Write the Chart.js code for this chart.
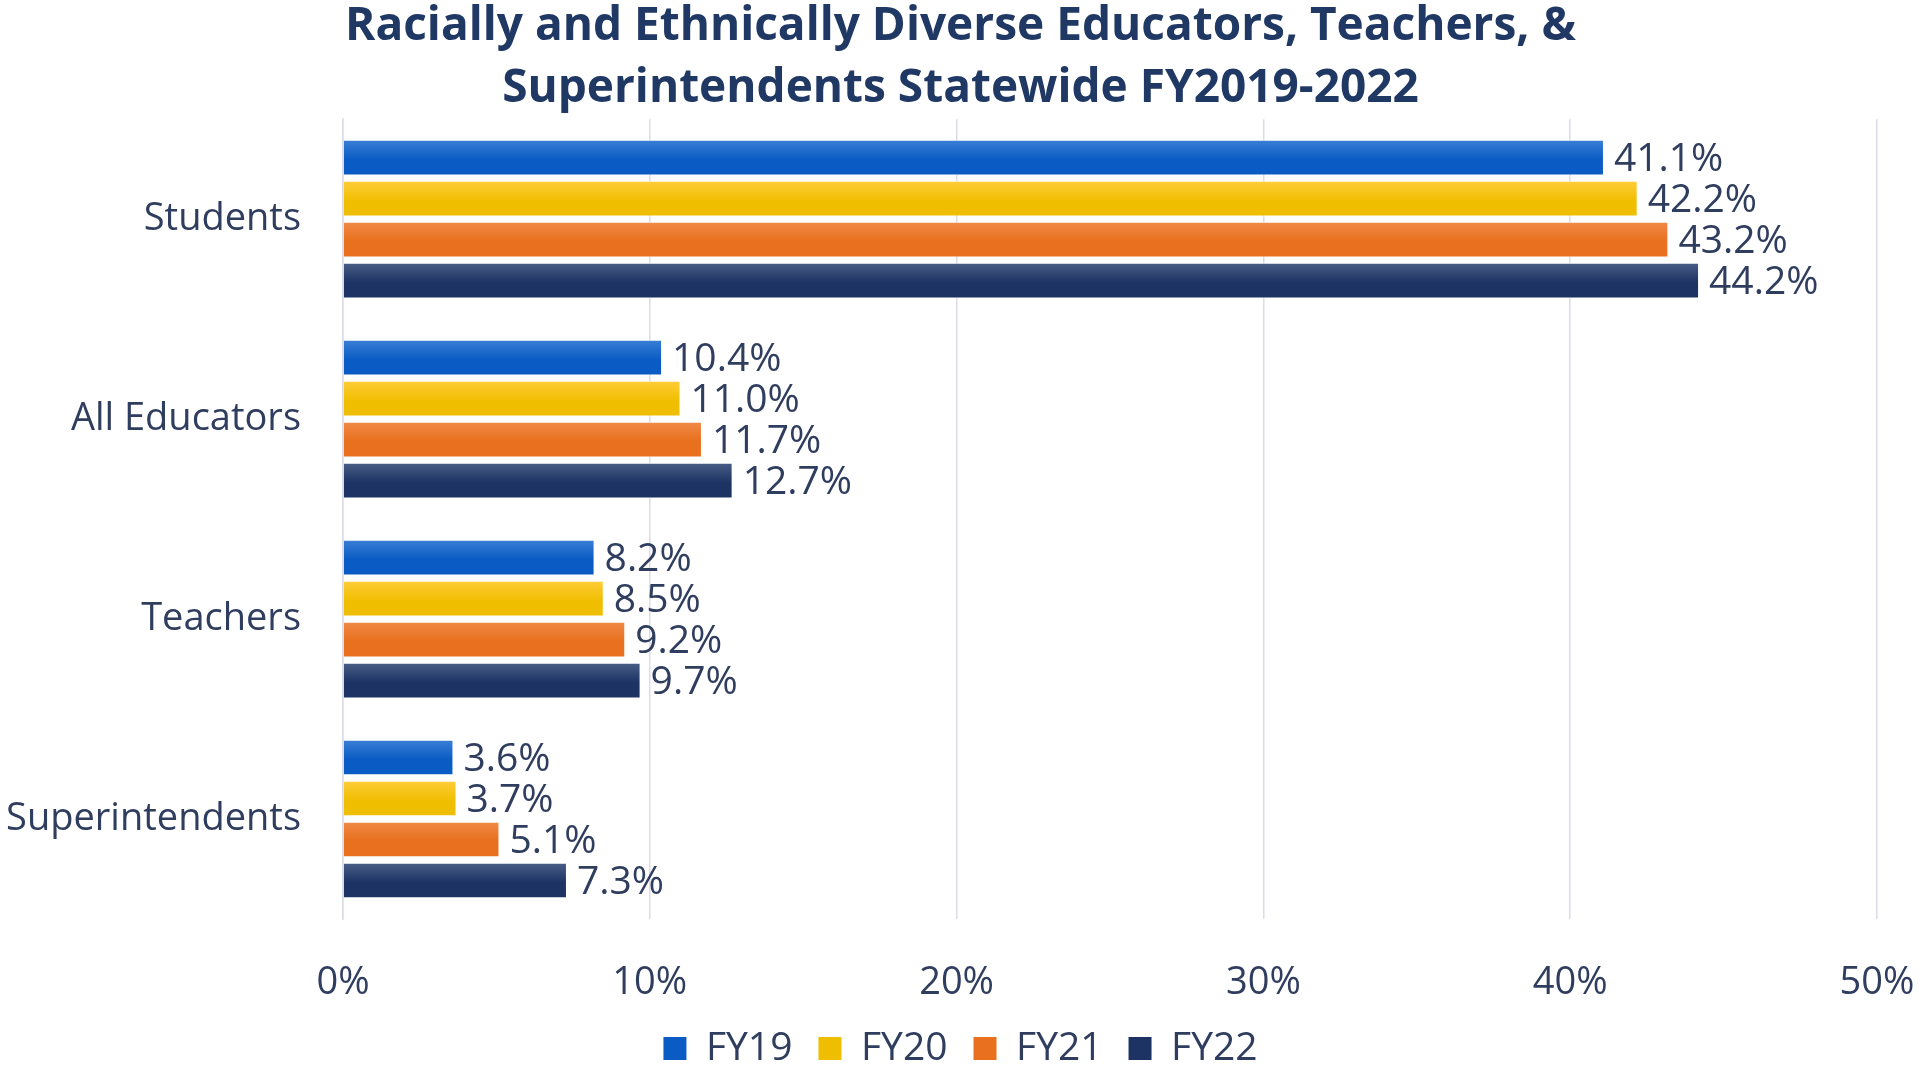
<!DOCTYPE html>
<html>
<head>
<meta charset="utf-8">
<script src="https://cdn.jsdelivr.net/npm/chart.js@4.4.1/dist/chart.umd.min.js"></script>
<style>
  html, body { margin: 0; padding: 0; background: #ffffff; }
  #wrap { width: 1921px; height: 1066px; position: relative; }
</style>
</head>
<body>
<div id="wrap"><canvas id="chart"></canvas></div>
<script>
const categories = ["Students", "All Educators", "Teachers", "Superintendents"];
const years = ["FY19", "FY20", "FY21", "FY22"];
const fy19 = [41.1, 10.4, 8.2, 3.6];
const fy20 = [42.2, 11.0, 8.5, 3.7];
const fy21 = [43.2, 11.7, 9.2, 5.1];
const fy22 = [44.2, 12.7, 9.7, 7.3];
const xTicks = [0, 10, 20, 30, 40, 50];

const textColor = "#2f3d5e";
const fontFamily = "'Open Sans', 'Noto Sans', sans-serif";

// top / bottom shades for each series
const shades = [
  ["#3a7fd6", "#0a5cc4"],
  ["#ffcd3a", "#f0be00"],
  ["#f08a48", "#e8701e"],
  ["#4a5f86", "#1d3364"]
];

// value labels to the right of each bar
const valueLabels = {
  id: "valueLabels",
  afterDatasetsDraw(chart) {
    const ctx = chart.ctx;
    ctx.save();
    ctx.font = "39px " + fontFamily;
    ctx.fillStyle = textColor;
    ctx.textAlign = "left";
    ctx.textBaseline = "middle";
    chart.data.datasets.forEach((ds, i) => {
      const meta = chart.getDatasetMeta(i);
      meta.data.forEach((bar, j) => {
        ctx.fillText(ds.data[j].toFixed(1) + "%", bar.x + 10, bar.y + 2);
      });
    });
    ctx.restore();
  }
};

// vertical gradient on each bar
const barShading = {
  id: "barShading",
  beforeDatasetsDraw(chart) {
    const ctx = chart.ctx;
    chart.data.datasets.forEach((ds, i) => {
      const meta = chart.getDatasetMeta(i);
      meta.data.forEach(bar => {
        const h = bar.height / 2;
        const g = ctx.createLinearGradient(0, bar.y - h, 0, bar.y + h);
        g.addColorStop(0, shades[i][0]);
        g.addColorStop(0.55, shades[i][1]);
        g.addColorStop(1, shades[i][1]);
        bar.options.backgroundColor = g;
      });
    });
  }
};

const seriesData = [fy19, fy20, fy21, fy22];

new Chart(document.getElementById("chart"), {
  type: "bar",
  data: {
    labels: categories,
    datasets: years.map((y, i) => ({
      label: y,
      data: seriesData[i],
      // scriptable so every bar keeps its own options object
      backgroundColor: () => shades[i][1],
      borderColor: "rgba(255,255,255,0.6)",
      borderWidth: 1,
      barPercentage: 0.87,
      categoryPercentage: 0.82
    }))
  },
  options: {
    indexAxis: "y",
    responsive: true,
    maintainAspectRatio: false,
    animation: false,
    layout: {
      padding: { left: 0, right: 0, top: 0, bottom: -12 }
    },
    plugins: {
      title: {
        display: true,
        text: ["Racially and Ethnically Diverse Educators, Teachers, &",
               "Superintendents Statewide FY2019-2022"],
        color: "#1f3864",
        font: { family: fontFamily, size: 46, weight: "bold", lineHeight: 1.35 },
        padding: { top: -4, bottom: -1 }
      },
      legend: {
        position: "bottom",
        labels: {
          color: textColor,
          font: { family: fontFamily, size: 39 },
          boxWidth: 23,
          boxHeight: 23,
          padding: 26,
          generateLabels(chart) {
            return chart.data.datasets.map((ds, i) => ({
              text: ds.label,
              fillStyle: shades[i][1],
              strokeStyle: shades[i][1],
              lineWidth: 0,
              fontColor: textColor,
              datasetIndex: i
            }));
          }
        }
      },
      tooltip: { enabled: false }
    },
    scales: {
      x: {
        min: 0,
        max: 50,
        afterBuildTicks(scale) {
          scale.ticks = xTicks.map(v => ({ value: v }));
        },
        afterFit(scale) {
          scale.height = 84;
          scale.paddingRight = 44;
        },
        ticks: {
          color: textColor,
          font: { family: fontFamily, size: 38 },
          padding: 41,
          callback: v => v + "%"
        },
        grid: { color: "#dcdce8", lineWidth: 1.5, drawTicks: false },
        border: { display: false }
      },
      y: {
        afterFit(scale) { scale.width = 343; },
        ticks: {
          color: textColor,
          font: { family: fontFamily, size: 38 },
          padding: 34
        },
        grid: { display: false },
        border: { display: true, color: "#dcdce8", width: 1.5 }
      }
    }
  },
  plugins: [barShading, valueLabels]
});
</script>
</body>
</html>
